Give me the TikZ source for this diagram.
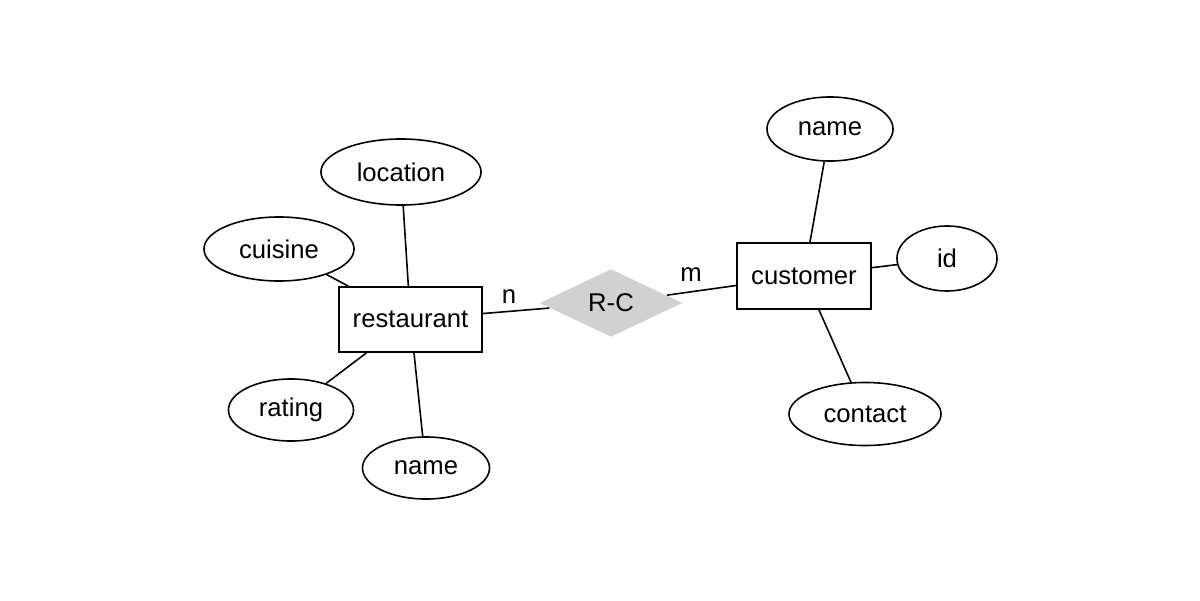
\documentclass[tikz,border=0pt]{standalone}
\usepackage{fontspec}
\setmainfont{Liberation Sans}
\usetikzlibrary{shapes.geometric}

\tikzset{
  entity/.style={draw, thick, rectangle, minimum width=1.43cm, minimum height=0.65cm, inner sep=0pt},
  attr/.style={draw, thick, ellipse, inner sep=0pt},
  relation/.style={diamond, fill=black!18, inner sep=0pt, minimum width=1.43cm, minimum height=0.68cm},
  link/.style={thick}
}

\begin{document}
\begin{tikzpicture}[x=0.01cm, y=-0.01cm, thick/.style={line width=0.45pt},
  font=\fontsize{7.3}{9}\selectfont]
  \useasboundingbox (0,0) rectangle (1200,600);

  % Entities
  \node[entity] (restaurant) at (410.5, 319.5) {restaurant};
  \node[entity, minimum width=1.34cm, minimum height=0.66cm] (customer) at (804, 276) {customer};

  % Relationship R-C
  \node[relation] (rc) at (611, 303) {R-C};

  % Attributes of restaurant
  \node[attr, minimum width=1.6cm, minimum height=0.66cm] (location) at (401, 172) {location};
  \node[attr, minimum width=1.5cm, minimum height=0.64cm] (cuisine) at (279, 249) {cuisine};
  \node[attr, minimum width=1.25cm, minimum height=0.62cm] (rating) at (291, 410) {rating};
  \node[attr, minimum width=1.27cm, minimum height=0.62cm] (rname) at (426, 468) {name};

  % Attributes of customer
  \node[attr, minimum width=1.26cm, minimum height=0.64cm] (cname) at (830, 129) {name};
  \node[attr, minimum width=1.0cm, minimum height=0.65cm] (cid) at (947, 258.5) {id};
  \node[attr, minimum width=1.52cm, minimum height=0.63cm] (contact) at (865, 414) {contact};

  % Cardinalities
  \node (n) at (509, 297) {n};
  \node (m) at (691, 275) {m};

  % Connections
  \draw[link] (restaurant) -- (location);
  \draw[link] (restaurant) -- (cuisine);
  \draw[link] (restaurant) -- (rating);
  \draw[link] (restaurant) -- (rname);
  \draw[link] (restaurant) -- (rc);
  \draw[link] (rc) -- (customer);
  \draw[link] (customer) -- (cname);
  \draw[link] (customer) -- (cid);
  \draw[link] (customer) -- (contact);
\end{tikzpicture}
\end{document}
